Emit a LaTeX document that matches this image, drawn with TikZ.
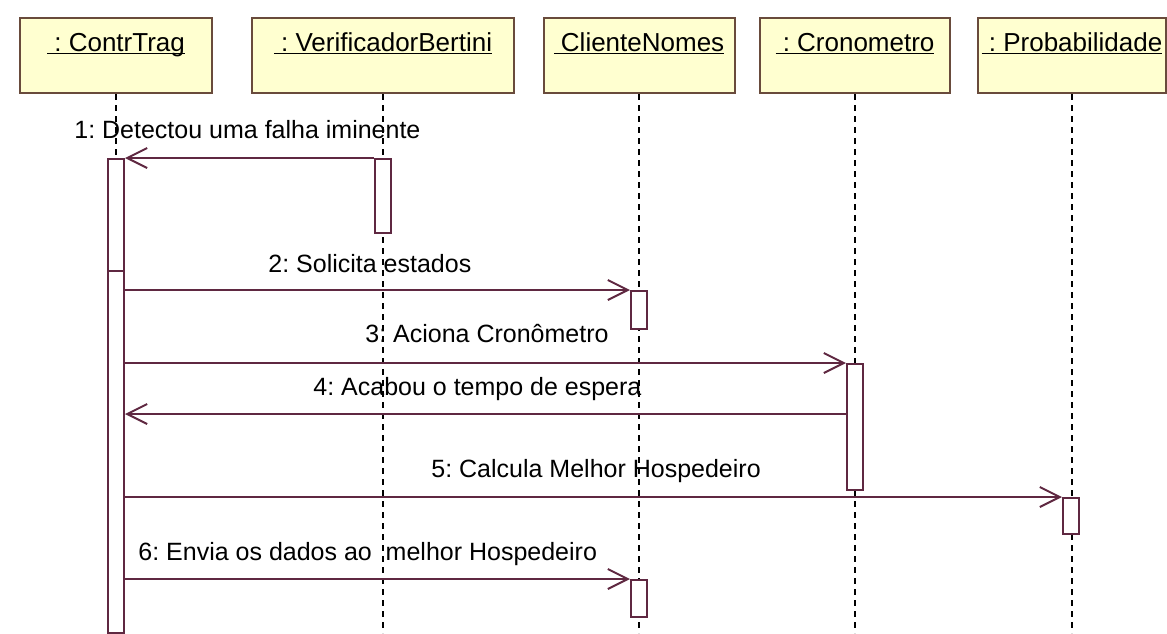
\documentclass[tikz,border=0pt]{standalone}
\usepackage{fontspec}
\setmainfont{Liberation Sans}
\usetikzlibrary{arrows.meta,positioning}
\frenchspacing

\definecolor{boxfill}{RGB}{255,255,208}
\definecolor{boxline}{RGB}{105,75,60}
\definecolor{msgline}{RGB}{95,40,65}
\newcommand{\objname}[1]{\underline{\smash{\ #1}}}

\begin{document}
\begin{tikzpicture}[x=0.5pt,y=-0.5pt,
        every node/.style={font=\fontsize{12.5}{15}\selectfont, inner sep=0pt},
        objbox/.style={rectangle, draw=boxline, fill=boxfill, line width=1pt, anchor=north,
            minimum height=37.5pt, text height=16.5pt, text depth=21pt,
            font=\fontsize{13}{15}\selectfont},
        actbar/.style={rectangle, draw=msgline, fill=white, line width=1pt, anchor=north,
            minimum width=8pt},
        life/.style={black, line width=1pt, dash pattern=on 3pt off 2.5pt},
        msg/.style={msgline, line width=1pt, -{Straight Barb[length=10pt, width=10pt]}},
        msglabel/.style={anchor=base west}
        ]
        \useasboundingbox (0,0) rectangle (1167,633);
        \fill[white] (0,0) rectangle (1167,633);
        \coordinate (bottom) at (0,633);

        % objects
        \node[objbox, minimum width=96pt]  (ctrl)  at (116,17)  {\objname{: ContrTrag}};
        \node[objbox, minimum width=131pt] (verif) at (383,17)  {\objname{: VerificadorBertini}};
        \node[objbox, minimum width=95.5pt] (cli)  at (639,17)  {\objname{ClienteNomes}};
        \node[objbox, minimum width=95pt]  (cron)  at (855,17)  {\objname{: Cronometro}};
        \node[objbox, minimum width=94pt]  (prob)  at (1072,17) {\objname{: Probabilidade}};

        \foreach \o in {ctrl,verif,cli,cron,prob}
            \draw[life] (\o.south) -- (\o.south |- bottom);

        % activations
        \node[actbar, minimum height=56pt]  (ctrlA)  at (116,158) {};
        \node[actbar, minimum height=181pt] (ctrlB)  at (116,270) {};
        \node[actbar, minimum height=37pt]  (verifA) at (383,158) {};
        \node[actbar, minimum height=19pt]  (cliA)   at (639,290) {};
        \node[actbar, minimum height=63pt]  (cronA)  at (855,363) {};
        \node[actbar, minimum height=18pt]  (probA)  at (1071,497) {};
        \node[actbar, minimum height=18.5pt] (cliB)  at (639,579) {};

        % messages
        \draw[msg] (verifA.north west) -- (ctrlA.north east);
        \draw[msg] (ctrlB.east |- cliA.north) -- (cliA.north west);
        \draw[msg] (ctrlB.east |- cronA.north) -- (cronA.north west);
        \draw[msg] ([yshift=-25.5pt]cronA.north west) -- ([yshift=-25.5pt]cronA.north west -| ctrlB.east);
        \draw[msg] (ctrlB.east |- probA.north) -- (probA.north west);
        \draw[msg] (ctrlB.east |- cliB.north) -- (cliB.north west);

        \node[msglabel] (m1) at (74,138)  {1: Detectou uma falha iminente};
        \node[msglabel] (m2) at (268,272) {2: Solicita estados};
        \node[msglabel] (m3) at (365,342) {3: Aciona Cronômetro};
        \node[msglabel] (m4) at (313,395) {4: Acabou o tempo de espera};
        \node[msglabel] (m5) at (431,477) {5: Calcula Melhor Hospedeiro};
        \node[msglabel] (m6) at (138,560) {6: Envia os dados ao\ \ melhor Hospedeiro};
\end{tikzpicture}
\end{document}
